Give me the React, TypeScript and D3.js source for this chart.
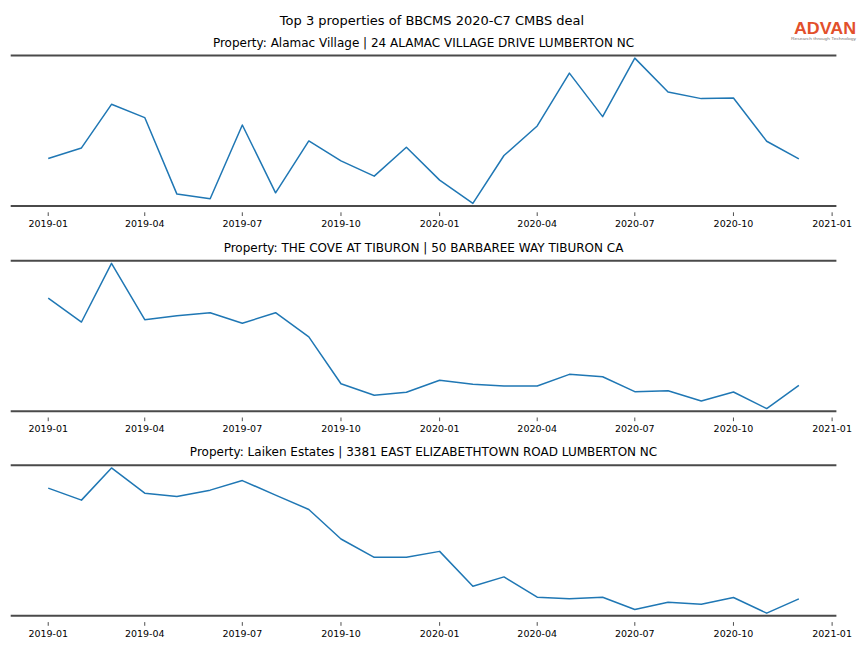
import * as d3 from 'd3'

const months = d3.timeMonths(new Date(2019, 0, 1), new Date(2021, 0, 1))

const titles = [
  'Property: Alamac Village | 24 ALAMAC VILLAGE DRIVE LUMBERTON NC',
  'Property: THE COVE AT TIBURON | 50 BARBAREE WAY TIBURON CA',
  'Property: Laiken Estates | 3381 EAST ELIZABETHTOWN ROAD LUMBERTON NC',
]

const alamac = [
  47.7, 58.3, 102, 88.7, 12, 7.3, 81.3, 13.3, 65.3, 45.3, 30, 59,
  26, 2.7, 50.7, 80.3, 133.3, 89.7, 148.3, 114.3, 107.7, 108.3, 65, 47.3,
]
const cove = [
  112.3, 88.3, 147.3, 90.7, 94.7, 97.7, 87, 97.7, 73.3, 26.3, 14.7, 17.7,
  29.7, 25.7, 24, 24, 35.7, 33.3, 18.3, 19.3, 9, 18, 1.3, 24.7,
]
const laiken = [
  126.7, 114.7, 147, 121.7, 118.3, 124.7, 134.3, 119.7, 105.3, 75.7, 57.3, 57.3,
  63.3, 28.3, 37.7, 17.3, 15.7, 17.3, 5, 12.3, 10.3, 17, 1.3, 15.7,
]
const series = [alamac, cove, laiken]

const W = 864
const H = 648
const left = 10.7
const right = 836.4
const panelTop = [55.5, 260.7, 465.3]
const panelH = 150.5
const font = 'DejaVu Sans, sans-serif'

const day = 24 * 3600 * 1000
const x = d3
  .scaleTime()
  .domain([new Date(+months[0] - 35 * day), new Date(+months[months.length - 1] + 35 * day)])
  .range([left, right])
const ticks = d3.timeMonth.every(3)!.range(new Date(2019, 0, 1), new Date(2021, 0, 2))
const fmt = d3.timeFormat('%Y-%m')

function Panel({ i }: { i: number }) {
  const vals = series[i]
  const top = panelTop[i]
  const bottom = top + panelH
  const [mn, mx] = d3.extent(vals) as [number, number]
  const pad = (mx - mn) * 0.018
  const y = d3.scaleLinear().domain([mn - pad, mx + pad]).range([bottom, top])
  const line = d3
    .line<number>()
    .x((_, k) => x(months[k]))
    .y((d) => y(d))
  return (
    <g>
      <text x={(left + right) / 2} y={top - 9} textAnchor="middle" fontSize={12} fontFamily={font} fill="#000">
        {titles[i]}
      </text>
      <path d={line(vals) || ''} fill="none" stroke="#1f77b4" strokeWidth={1.5} strokeLinejoin="round" />
      <line x1={left} x2={right} y1={top} y2={top} stroke="#4a4a4a" strokeWidth={2} />
      <line x1={left} x2={right} y1={bottom} y2={bottom} stroke="#4a4a4a" strokeWidth={2} />
      {ticks.map((t) => (
        <g key={+t} transform={`translate(${x(t)},${bottom})`}>
          <line y1={6.3} y2={10} stroke="#222" strokeWidth={0.8} />
          <text y={20.8} textAnchor="middle" fontSize={9.5} fontFamily={font} fill="#000">
            {fmt(t)}
          </text>
        </g>
      ))}
    </g>
  )
}

export default function App() {
  return (
    <svg width={W} height={H} style={{ position: 'absolute', left: 0, top: 0, background: '#fff' }}>
      <rect width={W} height={H} fill="#fff" />
      <text x={432} y={24.5} textAnchor="middle" fontSize={13} fontFamily={font} fill="#000">
        Top 3 properties of BBCMS 2020-C7 CMBS deal
      </text>
      <text x={794} y={33.5} fontSize={16} fontWeight="bold" fontFamily="Liberation Sans, Arial, sans-serif" fill="#e2502b" textLength={62} lengthAdjust="spacingAndGlyphs">
        ADVAN
      </text>
      <text x={791} y={40.2} fontSize={4.3} fontFamily="Liberation Sans, Arial, sans-serif" fill="#777" textLength={65} lengthAdjust="spacingAndGlyphs">
        Research through Technology
      </text>
      {series.map((_, i) => (
        <Panel key={i} i={i} />
      ))}
    </svg>
  )
}
